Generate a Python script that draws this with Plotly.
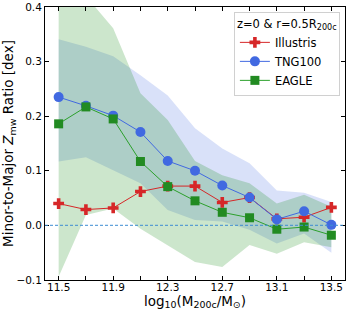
import plotly.graph_objects as go

mass = [11.5, 11.7, 11.9, 12.1, 12.3, 12.5, 12.7, 12.9, 13.1, 13.3, 13.5]

illustris = [0.040, 0.029, 0.032, 0.062, 0.072, 0.072, 0.042, 0.051, 0.012, 0.015, 0.033]
tng100 = [0.235, 0.219, 0.201, 0.171, 0.118, 0.100, 0.073, 0.051, 0.011, 0.026, 0.001]
eagle = [0.186, 0.217, 0.195, 0.117, 0.071, 0.045, 0.024, 0.014, -0.007, -0.003, -0.018]

tng_hi = [0.341, 0.327, 0.310, 0.275, 0.238, 0.178, 0.141, 0.114, 0.064, 0.060, 0.043]
tng_lo = [0.117, 0.125, 0.101, 0.077, 0.028, 0.010, 0.007, -0.008, -0.033, -0.015, -0.050]
eagle_hi = [0.50, 0.42, 0.361, 0.242, 0.193, 0.118, 0.092, 0.077, 0.040, 0.056, 0.034]
eagle_lo = [-0.094, 0.019, 0.031, -0.006, -0.036, -0.067, -0.076, -0.036, -0.052, -0.031, -0.040]

xtick_vals = [11.5, 11.7, 11.9, 12.1, 12.3, 12.5, 12.7, 12.9, 13.1, 13.3, 13.5]
xtick_text = ["11.5", "", "11.9", "", "12.3", "", "12.7", "", "13.1", "", "13.5"]
ytick_vals = [-0.1, 0.0, 0.1, 0.2, 0.3, 0.4]
ytick_text = ["\u22120.1", "0.0", "0.1", "0.2", "0.3", "0.4"]

RED = "#d62728"
BLUE = "royalblue"
GREEN = "#2ca02c"

fig = go.Figure()

# bands
fig.add_trace(go.Scatter(x=mass + mass[::-1], y=tng_hi + tng_lo[::-1], fill="toself",
                         fillcolor="rgba(65,105,225,0.2)", line=dict(width=0),
                         mode="lines", showlegend=False, hoverinfo="skip"))
fig.add_trace(go.Scatter(x=mass + mass[::-1], y=eagle_hi + eagle_lo[::-1], fill="toself",
                         fillcolor="rgba(0,128,0,0.2)", line=dict(width=0),
                         mode="lines", showlegend=False, hoverinfo="skip"))

# zero line
fig.add_hline(y=0, line=dict(color="rgba(60,140,210,0.8)", width=1.2, dash="3px,2px"))

fig.add_trace(go.Scatter(x=mass, y=illustris, mode="lines+markers", name="Illustris",
                         line=dict(color=RED, width=1),
                         marker=dict(symbol="cross", size=9, color=RED,
                                     line=dict(width=0))))
fig.add_trace(go.Scatter(x=mass, y=tng100, mode="lines+markers", name="TNG100",
                         line=dict(color=BLUE, width=1),
                         marker=dict(symbol="circle", size=10, color=BLUE,
                                     line=dict(width=0))))
fig.add_trace(go.Scatter(x=mass, y=eagle, mode="lines+markers", name="EAGLE",
                         line=dict(color=GREEN, width=1),
                         marker=dict(symbol="square", size=9, color="#228B22",
                                     line=dict(width=0))))

axis_common = dict(showline=True, linecolor="black", linewidth=1, mirror="allticks",
                   ticks="inside", ticklen=4, tickcolor="black", tickwidth=1,
                   showgrid=False, zeroline=False,
                   tickfont=dict(family="DejaVu Sans", size=10.5, color="black"))

fig.update_xaxes(range=[11.4, 13.6], tickmode="array", tickvals=xtick_vals,
                 ticktext=xtick_text, ticklabelstandoff=-3,
                 title=dict(text="log<sub>10</sub>(M<sub>200c</sub>/M<sub>\u2299</sub>)",
                            font=dict(family="DejaVu Sans", size=13.5, color="black"),
                            standoff=0),
                 automargin=False, **axis_common)
fig.update_yaxes(range=[-0.1, 0.4], tickmode="array", tickvals=ytick_vals,
                 ticktext=ytick_text,
                 title=dict(text="Minor-to-Major <i>Z</i><sub>mw</sub> Ratio [dex]",
                            font=dict(family="DejaVu Sans", size=13.5, color="black"),
                            standoff=4),
                 automargin=False, **axis_common)

fig.update_layout(
    width=349, height=311,
    margin=dict(l=45, r=4, t=7, b=31),
    paper_bgcolor="white", plot_bgcolor="white",
    font=dict(family="DejaVu Sans", color="black"),
    legend=dict(x=0.983, y=0.982, xanchor="right", yanchor="top",
                bgcolor="rgba(255,255,255,0.85)", bordercolor="#d0d0d0", borderwidth=1,
                font=dict(family="DejaVu Sans", size=11.5),
                title=dict(text="z=0 & r=0.5R<sub>200c</sub>",
                           font=dict(family="DejaVu Sans", size=11.5)),
                tracegroupgap=0, itemwidth=30),
    showlegend=True,
)

fig.write_html("out.html", config={"displayModeBar": False},
               post_script="document.body.style.margin='0';")
